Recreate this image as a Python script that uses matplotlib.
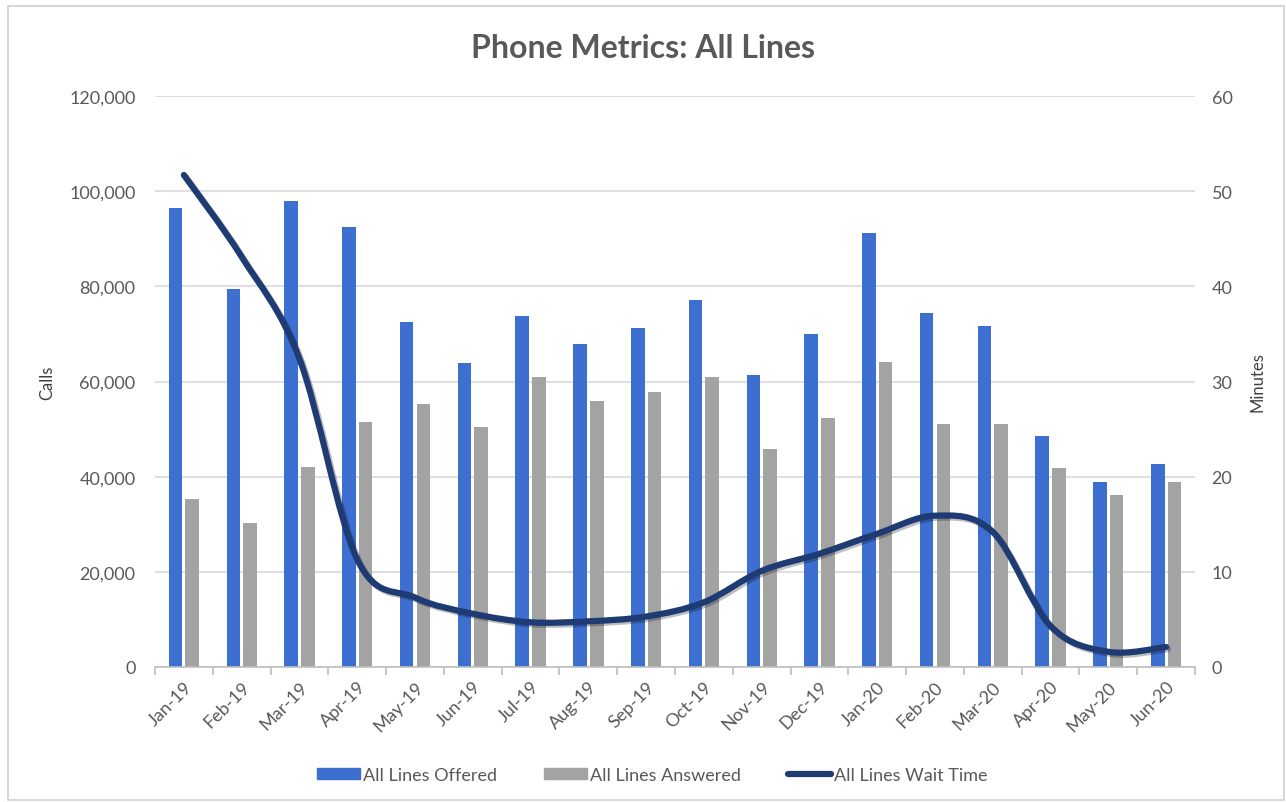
import matplotlib.pyplot as plt
import matplotlib.patches as mpatches
import matplotlib.patheffects as pe
from matplotlib.path import Path
from matplotlib.ticker import FuncFormatter, FixedLocator

months = ['Jan-19', 'Feb-19', 'Mar-19', 'Apr-19', 'May-19', 'Jun-19', 'Jul-19', 'Aug-19', 'Sep-19',
          'Oct-19', 'Nov-19', 'Dec-19', 'Jan-20', 'Feb-20', 'Mar-20', 'Apr-20', 'May-20', 'Jun-20']
offered = [96400, 79400, 97900, 92400, 72500, 63800, 73800, 67800, 71200,
           77200, 61300, 70000, 91300, 74300, 71600, 48600, 38900, 42700]
answered = [35300, 30300, 42000, 51500, 55300, 50500, 61000, 56000, 57800,
            61000, 45800, 52300, 64200, 51000, 51000, 41800, 36100, 38900]
wait_time = [51.7, 43.1, 32.4, 11.3, 7.3, 5.6, 4.7, 4.8, 5.3,
             6.8, 10.1, 11.9, 14.0, 15.9, 14.2, 4.3, 1.6, 2.1]

txt = '#595959'
plt.rcParams['font.family'] = ['Lato', 'DejaVu Sans']


# smooth line like excel (catmull-rom bezier through every point)
def smooth_path(xs, ys):
    pts = list(zip(xs, ys))
    verts = [pts[0]]
    codes = [Path.MOVETO]
    n = len(pts)
    for i in range(n - 1):
        p0 = pts[i - 1] if i > 0 else pts[i]
        p1 = pts[i]
        p2 = pts[i + 1]
        p3 = pts[i + 2] if i + 2 < n else pts[i + 1]
        c1 = (p1[0] + (p2[0] - p0[0]) / 6, p1[1] + (p2[1] - p0[1]) / 6)
        c2 = (p2[0] - (p3[0] - p1[0]) / 6, p2[1] - (p3[1] - p1[1]) / 6)
        verts += [c1, c2, p2]
        codes += [Path.CURVE4] * 3
    return Path(verts, codes)


fig = plt.figure(figsize=(12.86, 8.03), dpi=100)
ax = fig.add_axes([155 / 1286, 1 - 668 / 803, 1040 / 1286, 571 / 803])
ax2 = ax.twinx()

x = list(range(len(months)))
w = 0.235
ax.bar([i - 0.145 for i in x], offered, w, color='#3D6FD0', zorder=2)
ax.bar([i + 0.145 for i in x], answered, w, color='#A3A3A3', zorder=2)

ax.set_ylim(0, 120000)
ax.set_xlim(-0.5, len(months) - 0.5)
ax.yaxis.set_major_locator(FixedLocator(range(0, 120001, 20000)))
ax.yaxis.set_major_formatter(FuncFormatter(lambda v, p: f'{int(v):,}'))
ax.grid(axis='y', color='#d9d9d9', linewidth=1.2, zorder=0)
ax.set_axisbelow(True)
for s in ['top', 'left', 'right']:
    ax.spines[s].set_visible(False)
ax.spines['bottom'].set_color('#bfbfbf')
ax.spines['bottom'].set_linewidth(1.2)
ax.set_xticks(x)
ax.set_xticklabels(months, rotation=45, ha='right', rotation_mode='anchor', fontsize=13, color=txt)
ax.set_xticks([i - 0.5 for i in range(len(months) + 1)], minor=True)
ax.tick_params(axis='x', which='major', length=0, pad=8)
ax.tick_params(axis='x', which='minor', length=6, color='#bfbfbf', width=1.2)
ax.tick_params(axis='y', length=0, labelsize=13, labelcolor=txt, pad=14)
ax.set_ylabel('Calls', fontsize=12, color='#404040', labelpad=10)

ax2.set_ylim(0, 60)
ax2.yaxis.set_major_locator(FixedLocator(range(0, 61, 10)))
for s in ax2.spines.values():
    s.set_visible(False)
ax2.tick_params(axis='y', length=0, labelsize=13, labelcolor=txt, pad=12)
ax2.set_ylabel('Minutes', fontsize=12, color='#404040', labelpad=12)

path = smooth_path(x, wait_time)
line = mpatches.PathPatch(path, facecolor='none', edgecolor='#1F3B73', linewidth=4.5,
                          capstyle='round', zorder=3,
                          path_effects=[pe.SimpleLineShadow(offset=(1.5, -1.5), alpha=0.25), pe.Normal()])
ax2.add_patch(line)

fig.text(0.5, 1 - 49 / 803, 'Phone Metrics: All Lines', ha='center', va='center',
         fontsize=23, fontweight='bold', color=txt)

handles = [mpatches.Patch(color='#3D6FD0'), mpatches.Patch(color='#A3A3A3'),
           plt.Line2D([], [], color='#1F3B73', linewidth=4.5, solid_capstyle='round')]
fig.legend(handles, ['All Lines Offered', 'All Lines Answered', 'All Lines Wait Time'],
           loc='center', bbox_to_anchor=(0.507, 1 - 776 / 803), ncol=3, frameon=False,
           fontsize=13, labelcolor=txt, handlelength=2.4, handleheight=0.6,
           handletextpad=0.15, columnspacing=2.6)

# light border around the chart
fig.patches.append(mpatches.Rectangle((8 / 1286, 2 / 803), 1276 / 1286, 794 / 803,
                                      transform=fig.transFigure, fill=False,
                                      edgecolor='#d0d0d0', linewidth=1.2))

fig.savefig('out.png', dpi=100)
